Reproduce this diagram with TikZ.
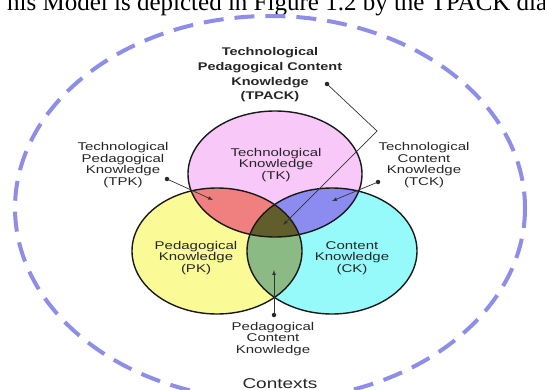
\documentclass[tikz,border=0pt]{standalone}
\usepackage{fontspec}
\setmainfont{Liberation Serif}
\setsansfont{Liberation Sans}
\usetikzlibrary{arrows,calc}
\definecolor{ctxblue}{RGB}{142,142,232}
\definecolor{tkpink}{RGB}{248,200,248}
\definecolor{pkyellow}{RGB}{250,250,150}
\definecolor{ckcyan}{RGB}{150,250,250}
\definecolor{tpkred}{RGB}{240,128,128}
\definecolor{tckblue}{RGB}{140,140,240}
\definecolor{pckgreen}{RGB}{140,186,132}
\definecolor{tpackolive}{RGB}{98,94,44}
\tikzstyle{boxtext}=[font=\sffamily\fontsize{15}{15.5}\selectfont, align=center, yscale=0.75, inner sep=0pt, text=black!85]
\tikzstyle{boldtext}=[font=\sffamily\bfseries\fontsize{14.5}{19}\selectfont, align=center, yscale=0.77, inner sep=0pt, text=black!85]
\tikzstyle{rim}=[draw=black!90, line width=1.4pt]
\tikzstyle{leader}=[draw=black!80, line width=0.7pt, -latex]
\tikzstyle{dot}=[circle, fill=black!85, inner sep=0pt, minimum size=4.5pt]
\tikzstyle{contexts}=[draw=ctxblue, line width=4pt, dash pattern=on 20pt off 11pt]
\tikzset{tkshape/.style={insert path={(275,174) ellipse [x radius=87, y radius=63]}},
         pkshape/.style={insert path={(217,251) ellipse [x radius=85, y radius=63]}},
         ckshape/.style={insert path={(332,251) ellipse [x radius=85, y radius=63]}}}

\begin{document}
\begin{tikzpicture}[x=1pt, y=-1pt]
    \useasboundingbox (0,0) rectangle (545,390);

    \begin{scope}
        \clip (0,0) rectangle (545,390);
        \node[anchor=base west, inner sep=0pt, font=\fontsize{25}{25}\selectfont] (caption) at (7,11) {his Model is depicted in Figure 1.2 by the TPACK dia};
        \draw[contexts] (270,208) ellipse [x radius=255, y radius=192];
    \end{scope}

    % the three circles
    \fill[pkyellow, pkshape];
    \fill[ckcyan, ckshape];
    \fill[tkpink, tkshape];

    % overlaps
    \begin{scope}
        \clip[tkshape];
        \fill[tpkred, pkshape];
        \fill[tckblue, ckshape];
    \end{scope}
    \begin{scope}
        \clip[pkshape];
        \fill[pckgreen, ckshape];
        \clip[ckshape];
        \fill[tpackolive, tkshape];
    \end{scope}

    \foreach \shape in {pkshape, ckshape, tkshape}
        \draw[rim, \shape];

    % labels
    \node[boldtext] (tpack) at (270,75) {Technological\\Pedagogical Content\\Knowledge\\(TPACK)};
    \node[boxtext] (tpk) at (123,165) {Technological\\Pedagogical\\Knowledge\\(TPK)};
    \node[boxtext] (tck) at (424,165) {Technological\\Content\\Knowledge\\(TCK)};
    \node[boxtext] (tk) at (276,165) {Technological\\Knowledge\\(TK)};
    \node[boxtext] (pk) at (196,258) {Pedagogical\\Knowledge\\(PK)};
    \node[boxtext] (ck) at (352,258) {Content\\Knowledge\\(CK)};
    \node[boxtext] (pck) at (273,339) {Pedagogical\\Content\\Knowledge};
    \node[boxtext, font=\sffamily\fontsize{19}{19}\selectfont, anchor=base] (ctx) at (280,388) {Contexts};

    % leaders
    \node[dot] (tpackdot) at (327,84) {};
    \node[dot] (tpkdot) at (167,179) {};
    \node[dot] (tckdot) at (378,182) {};
    \node[dot] (pckdot) at (274,315) {};
    \coordinate (tpackbend) at (377,131);
    \coordinate (tpacktip) at (283,225);
    \coordinate (tpktip) at (213,200);
    \coordinate (tcktip) at (332,201);
    \coordinate (pcktip) at (274,270);

    \draw[leader] (tpackdot.center) -- (tpackbend) -- (tpacktip);
    \foreach \source/ \dest in {tpkdot/tpktip, tckdot/tcktip, pckdot/pcktip}
        \draw[leader] (\source.center) -- (\dest);

\end{tikzpicture}
\end{document}
